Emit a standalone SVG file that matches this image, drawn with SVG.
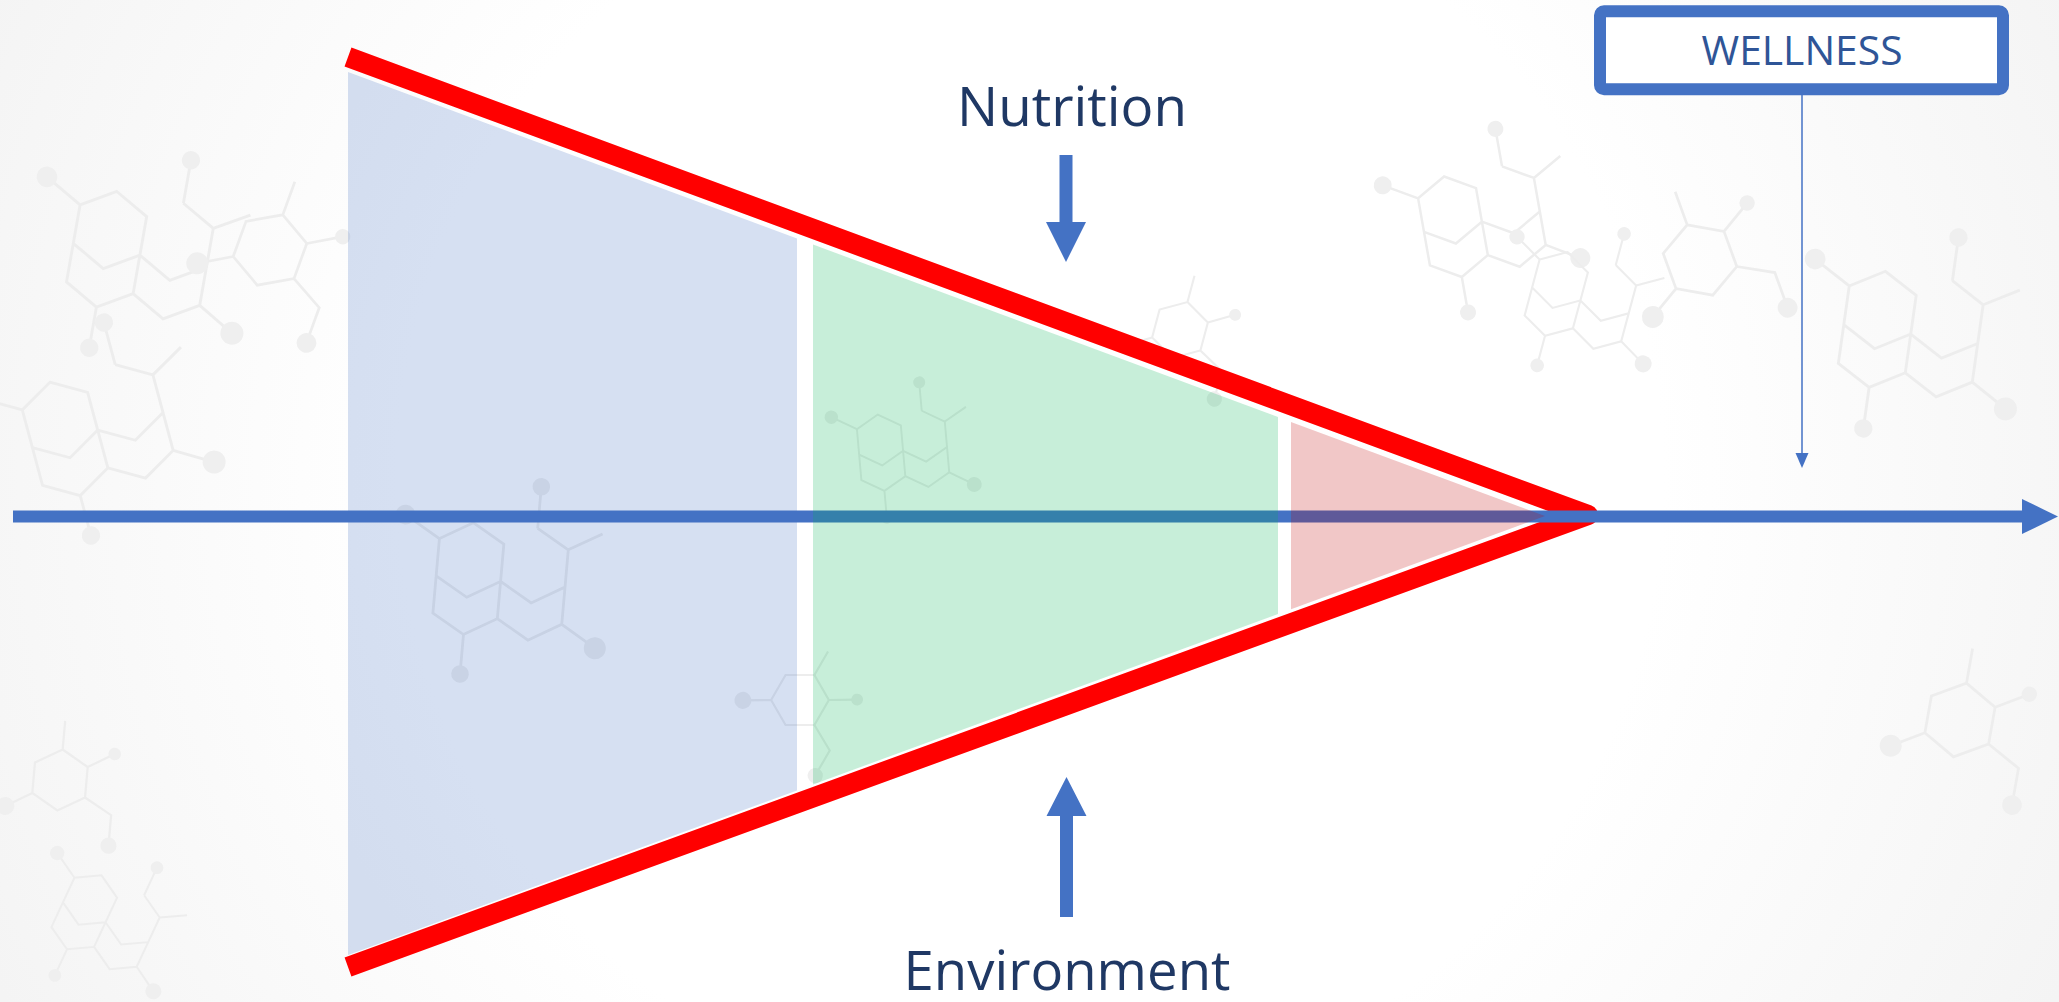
<svg xmlns="http://www.w3.org/2000/svg" xmlns:xlink="http://www.w3.org/1999/xlink" width="2059" height="1002" viewBox="0 0 2059 1002">
<style>
.lbl{font-family:"Open Sans","Liberation Sans",sans-serif;fill:#1F3864;text-anchor:middle}
.wl{font-family:"Open Sans","Liberation Sans",sans-serif;fill:#2F5597;text-anchor:middle}
.mol path{fill:none;stroke:#EDEDED;stroke-width:2.5}
.mol circle{fill:#EFEFEF}
.blue{fill:#4472C4}
</style>
<defs>
<radialGradient id="bg" cx="1030" cy="480" r="1150" gradientUnits="userSpaceOnUse">
<stop offset="0.55" stop-color="#FFFFFF"/>
<stop offset="1" stop-color="#F4F4F4"/>
</radialGradient>
<g id="mol" class="mol">
<path d="M0,-34 L29.4,-17 L29.4,17 L0,34 L-29.4,17 L-29.4,-17 Z M58.8,-34 L88.2,-17 L88.2,17 L58.8,34 L29.4,17 M29.4,17 L29.4,51 L0,68 L-29.4,51 L-29.4,17 M88.2,17 L88.2,51 L58.8,68 L29.4,51 M-29.4,-17 L-62,-36 M58.8,-34 L58.8,-72 M88.2,51 L120,70 M0,68 L0,104 M88.2,-17 L118,-34"/>
<circle cx="-62" cy="-36" r="9"/><circle cx="58.8" cy="-72" r="8"/><circle cx="120" cy="70" r="10"/><circle cx="0" cy="104" r="8"/>
</g>
<g id="mol2" class="mol">
<path d="M0,-34 L29.4,-17 L29.4,17 L0,34 L-29.4,17 L-29.4,-17 Z M29.4,17 L60,34 L60,68 M29.4,-17 L58,-34 M-29.4,17 L-58,34 M0,-34 L0,-66"/>
<circle cx="60" cy="68" r="9"/><circle cx="58" cy="-34" r="7"/><circle cx="-58" cy="34" r="10"/>
</g>
</defs>
<rect x="0" y="0" width="2059" height="1002" fill="#FFFFFF"/>
<rect x="0" y="0" width="2059" height="1002" fill="url(#bg)"/>
<g id="background">
<use xlink:href="#mol" transform="translate(110,230) rotate(10) scale(1.15)"/>
<use xlink:href="#mol" transform="translate(60,420) rotate(-15) scale(1.15)"/>
<use xlink:href="#mol2" transform="translate(270,250) rotate(20) scale(1.1)"/>
<use xlink:href="#mol2" transform="translate(60,780) rotate(5) scale(0.9)"/>
<use xlink:href="#mol" transform="translate(90,900) rotate(25) scale(0.8)"/>
<use xlink:href="#mol" transform="translate(470,560) rotate(5) scale(1.1)"/>
<use xlink:href="#mol" transform="translate(880,440) rotate(-5) scale(0.75)"/>
<use xlink:href="#mol2" transform="translate(1180,330) rotate(15) scale(0.85)"/>
<use xlink:href="#mol" transform="translate(1450,210) rotate(-10)"/>
<use xlink:href="#mol" transform="translate(1560,280) rotate(15) scale(0.85)"/>
<use xlink:href="#mol" transform="translate(1880,310) rotate(8) scale(1.15)"/>
<use xlink:href="#mol2" transform="translate(1700,260) rotate(-20) scale(1.1)"/>
<use xlink:href="#mol2" transform="translate(1960,720) rotate(10) scale(1.1)"/>
<use xlink:href="#mol2" transform="translate(800,700) rotate(30) scale(0.85)"/>
</g>
<g id="funnel-outline">
<polyline points="348,57 1588,515 348,967" fill="none" stroke="#FF0000" stroke-width="20" stroke-linejoin="round" stroke-linecap="butt"/>
</g>
<g id="connectors">
<line x1="13" y1="516.5" x2="2023" y2="516.5" stroke="#4472C4" stroke-width="12"/>
<polygon class="blue" points="2022,499 2058,516.5 2022,534"/>
<polygon class="blue" points="1059.5,155 1072.5,155 1072.5,222 1086,222 1066,262 1046,222 1059.5,222"/>
<polygon class="blue" points="1066.5,777 1086.5,816 1073,816 1073,917 1060,917 1060,816 1046.5,816"/>
<line x1="1802" y1="95" x2="1802" y2="455" stroke="#4472C4" stroke-width="1.5"/>
<polygon class="blue" points="1795.5,453 1808.5,453 1802,468"/>
</g>
<g id="stage-blue">
<polygon points="348,72 797,238.6 797,790.4 348,955" fill="#4472C4" fill-opacity="0.22"/>
</g>
<g id="stage-green">
<polygon points="813,244.5 1278,417 1278,614 813,784.5" fill="#00B050" fill-opacity="0.22"/>
</g>
<g id="stage-red">
<polygon points="1291,421.9 1545,516 1291,609.2" fill="#C00000" fill-opacity="0.22"/>
</g>
<g id="nutrition">
<text class="lbl" x="1072" y="126" font-size="55" textLength="230" lengthAdjust="spacingAndGlyphs">Nutrition</text>
</g>
<g id="environment">
<text class="lbl" x="1067" y="990" font-size="55" textLength="327" lengthAdjust="spacingAndGlyphs">Environment</text>
</g>
<g id="wellness">
<rect x="1600" y="11.3" width="403" height="78" rx="4" fill="#FFFFFF" stroke="#4472C4" stroke-width="12"/>
<text class="wl" x="1802" y="65" font-size="40.5" textLength="201" lengthAdjust="spacingAndGlyphs">WELLNESS</text>
</g>
</svg>
